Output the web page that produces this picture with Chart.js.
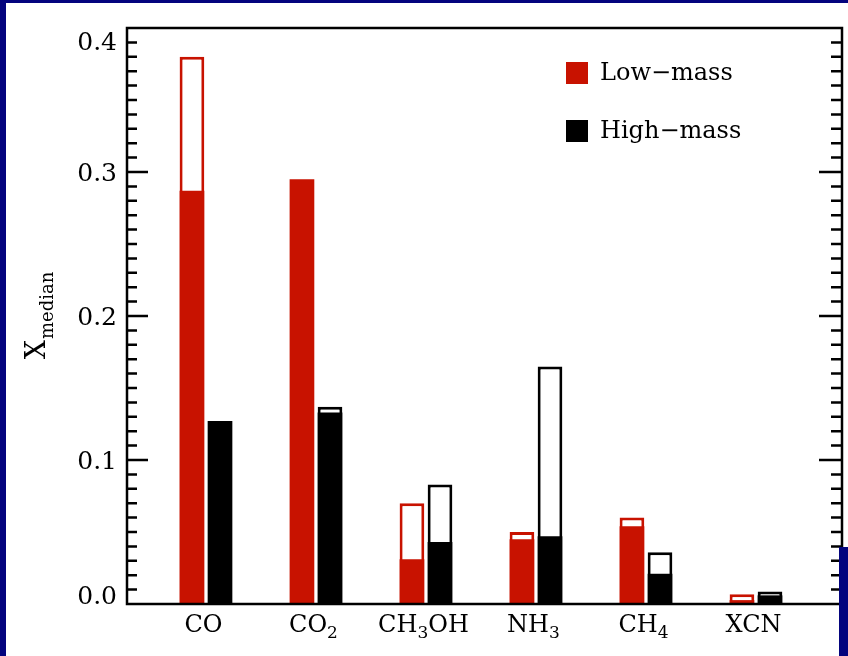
<!DOCTYPE html>
<html>
<head>
<meta charset="utf-8">
<script src="https://cdn.jsdelivr.net/npm/chart.js@4/dist/chart.umd.min.js"></script>
<style>
    html, body { margin: 0; padding: 0; background: #04047e; }
    canvas { display: block; }
</style>
</head>
<body>
<canvas id="iceChart" width="848" height="656"></canvas>
<script>
// Категории льдов
const categories = ['CO', 'CO₂', 'CH₃OH', 'NH₃', 'CH₄', 'XCN'];
// Медианы: закрашенная часть и полная высота (контур)
const lowMassSolid = [0.287, 0.295, 0.031, 0.045, 0.054, 0.0027];
const lowMassTotal = [0.380, null, 0.070, 0.050, 0.060, 0.0067];
const highMassSolid = [0.127, 0.133, 0.043, 0.047, 0.021, 0.006];
const highMassTotal = [null, 0.137, 0.083, 0.165, 0.036, 0.0086];
// Деления оси Y
const yTickValues = [0, 0.1, 0.2, 0.3, 0.4];
const yTickLabels = ['0.0', '0.1', '0.2', '0.3', '0.4'];
const yMinorStep = 0.01;

const lowColor = '#c81200';
const highColor = '#000000';
const navy = '#04047e';
const serif = '"DejaVu Serif", "Liberation Serif", serif';

// Точки для линейной оси X
function toPoints(values) {
    return values
        .map((v, i) => ({ x: i, y: v }))
        .filter(p => p.y !== null);
}

function barSet(label, values, stack, fill, border) {
    return {
        label: label,
        data: toPoints(values),
        stack: stack,
        backgroundColor: fill,
        borderColor: border,
        borderWidth: border ? 3 : 0,
        borderSkipped: false,
        categoryPercentage: 0.51,
        barPercentage: 0.88
    };
}

// Разбивка подписи на обычный текст и нижние индексы (₀-₉)
function splitSubscripts(text) {
    const runs = [];
    for (const ch of text) {
        const code = ch.charCodeAt(0);
        const sub = code >= 0x2080 && code <= 0x2089;
        const c = sub ? String.fromCharCode(code - 0x2080 + 48) : ch;
        const last = runs[runs.length - 1];
        if (last && last.sub === sub) last.text += c;
        else runs.push({ text: c, sub: sub });
    }
    return runs;
}

// Рамка, засечки, подписи осей, легенда
const framePlugin = {
    id: 'frame',
    beforeDraw(chart) {
        const { ctx, width, height } = chart;
        ctx.save();
        ctx.fillStyle = navy;
        ctx.fillRect(0, 0, width, height);
        ctx.fillStyle = '#ffffff';
        ctx.fillRect(6, 3, width - 6, height - 3);
        ctx.restore();
    },
    afterDatasetsDraw(chart) {
        const { ctx, chartArea: a, width, height } = chart;
        const y = chart.scales.y;
        const x = chart.scales.x;
        ctx.save();
        ctx.strokeStyle = '#000';
        ctx.lineWidth = 2.5;
        ctx.strokeRect(a.left, a.top, a.right - a.left, a.bottom - a.top);

        // засечки внутрь слева и справа
        const count = Math.round((y.max - y.min) / yMinorStep);
        ctx.beginPath();
        for (let i = 1; i < count; i++) {
            const py = y.getPixelForValue(y.min + i * yMinorStep);
            const major = i % 10 === 0;
            ctx.moveTo(a.left, py);
            ctx.lineTo(a.left + (major ? 21 : 10), py);
            ctx.moveTo(a.right, py);
            ctx.lineTo(a.right - (major ? 23 : 11), py);
        }
        ctx.stroke();

        // синяя полоса справа внизу, как на исходной картинке
        ctx.fillStyle = navy;
        ctx.fillRect(839, 547, width - 839, height - 547);

        // подписи оси Y (крайние прижаты внутрь рамки)
        ctx.fillStyle = '#000';
        ctx.font = '25px ' + serif;
        ctx.textAlign = 'right';
        ctx.textBaseline = 'alphabetic';
        yTickValues.forEach((v, i) => {
            const m = ctx.measureText(yTickLabels[i]);
            const h = m.actualBoundingBoxAscent;
            let base = y.getPixelForValue(v) + h / 2;
            base = Math.min(base, a.bottom);
            base = Math.max(base, a.top + 4 + h);
            ctx.fillText(yTickLabels[i], a.left - 10, base);
        });

        // подписи оси X с настоящими нижними индексами
        ctx.textAlign = 'left';
        const mainFont = '24px ' + serif;
        const subFont = '17px ' + serif;
        categories.forEach((name, i) => {
            const runs = splitSubscripts(name);
            let total = 0;
            runs.forEach(r => {
                ctx.font = r.sub ? subFont : mainFont;
                r.w = ctx.measureText(r.text).width;
                total += r.w;
            });
            let px = x.getPixelForValue(i) - 2.5 - total / 2;
            runs.forEach(r => {
                ctx.font = r.sub ? subFont : mainFont;
                ctx.fillText(r.text, px, a.bottom + (r.sub ? 34 : 28));
                px += r.w;
            });
        });

        // заголовок оси Y: X с индексом median
        ctx.save();
        ctx.translate(45, (a.top + a.bottom) / 2);
        ctx.rotate(-Math.PI / 2);
        ctx.font = '27px ' + serif;
        const wX = ctx.measureText('X').width;
        ctx.font = '18px ' + serif;
        const wSub = ctx.measureText('median').width;
        const start = -(wX + wSub) / 2;
        ctx.font = '27px ' + serif;
        ctx.fillText('X', start, 0);
        ctx.font = '18px ' + serif;
        ctx.fillText('median', start + wX + 1, 8);
        ctx.restore();

        // легенда
        ctx.font = '24px ' + serif;
        ctx.textBaseline = 'middle';
        chart.data.datasets.slice(0, 2).forEach((ds, i) => {
            const lx = a.right - 276;
            const ly = a.top + 34 + i * 58;
            ctx.fillStyle = ds.backgroundColor;
            ctx.fillRect(lx, ly, 22, 22);
            ctx.fillStyle = '#000';
            ctx.fillText(ds.label, lx + 34, ly + 12);
        });
        ctx.restore();
    }
};

const ctx = document.getElementById('iceChart').getContext('2d');
const iceChart = new Chart(ctx, {
    type: 'bar',
    data: {
        datasets: [
            barSet('Low−mass', lowMassSolid, 'low', lowColor, null),
            barSet('High−mass', highMassSolid, 'high', highColor, null),
            barSet('Low−mass total', lowMassTotal, 'low', '#ffffff', lowColor),
            barSet('High−mass total', highMassTotal, 'high', '#ffffff', highColor)
        ]
    },
    options: {
        responsive: false,
        animation: false,
        layout: { padding: { top: 28, right: 6, left: 0, bottom: 0 } },
        plugins: {
            legend: { display: false },
            tooltip: { enabled: false }
        },
        scales: {
            x: {
                type: 'linear',
                min: -0.718,
                max: 5.782,
                offset: false,
                grid: { display: false, drawTicks: false },
                border: { display: false },
                ticks: {
                    stepSize: 1,
                    includeBounds: false,
                    display: false
                },
                afterFit: (s) => { s.height = 52; }
            },
            y: {
                min: 0,
                max: 0.4,
                stacked: false,
                grid: { display: false, drawTicks: false },
                border: { display: false },
                ticks: { display: false },
                afterFit: (s) => { s.width = 127; }
            }
        }
    },
    plugins: [framePlugin]
});
</script>
</body>
</html>
